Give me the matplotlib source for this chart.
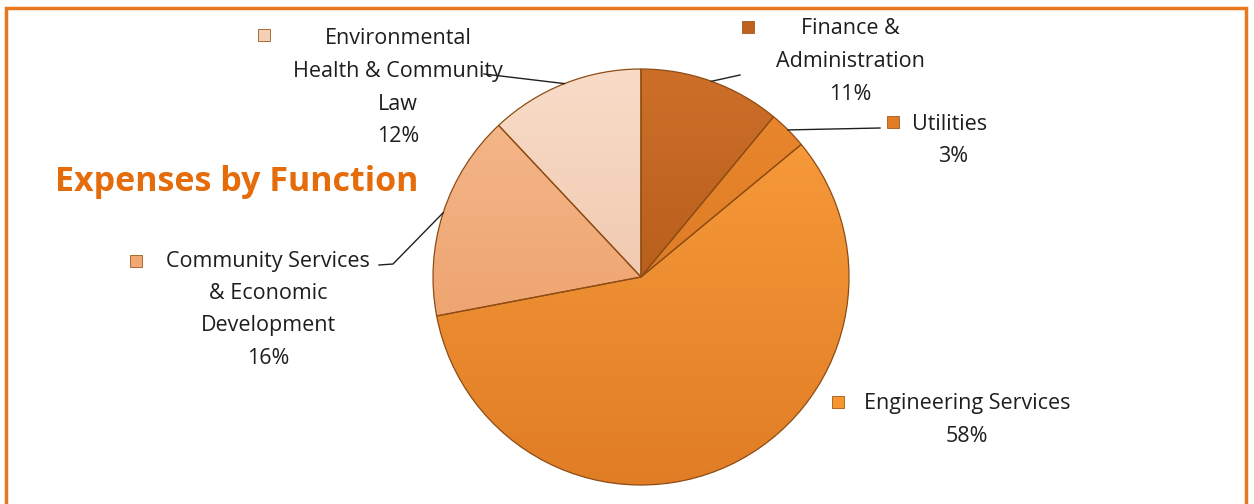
import matplotlib
matplotlib.use("Agg")
import matplotlib.pyplot as plt
from matplotlib.colors import LinearSegmentedColormap
import numpy as np

categories = ["Finance &\nAdministration", "Utilities", "Engineering Services",
              "Community Services\n& Economic\nDevelopment",
              "Environmental\nHealth & Community\nLaw"]
values = [11, 3, 58, 16, 12]
colors = ["#c0621f", "#e27b25", "#f7952f", "#f2a874", "#f3cfb6"]
# shading of each slice from the top of the pie to its bottom
shade_top = ["#cd6f29", "#ec892e", "#fb9f3e", "#f6ba8e", "#f8dcc8"]
shade_bottom = ["#a3500f", "#d0701f", "#e07d25", "#e9965e", "#eab899"]
title = "Expenses by Function"

W, H = 1254, 504
fig = plt.figure(figsize=(W / 100, H / 100), dpi=100)
ax = fig.add_axes([0, 0, 1, 1])


def py(y):
    return H - y


cx, cy, R = 641, py(277), 208
wedges, _ = ax.pie(values, colors=colors, startangle=90, counterclock=False,
                   center=(cx, cy), radius=R, frame=True,
                   wedgeprops=dict(edgecolor="#8e4c14", linewidth=0.9))
ax.set_xlim(0, W)
ax.set_ylim(0, H)
ax.set_aspect("equal")
ax.axis("off")

grad = np.linspace(0, 1, 256).reshape(-1, 1)
for w, ct, cb in zip(wedges, shade_top, shade_bottom):
    w.set_facecolor("none")
    w.set_zorder(3)
    cmap = LinearSegmentedColormap.from_list("s", [ct, cb])
    im = ax.imshow(grad, cmap=cmap, aspect="auto", origin="upper",
                   extent=(cx - R, cx + R, cy - R, cy + R), zorder=2,
                   interpolation="bilinear")
    im.set_clip_path(w)
ax.set_xlim(0, W)
ax.set_ylim(0, H)

font = ["Open Sans", "DejaVu Sans"]
fs = 15.5
line_h = 32.5
layout = [
    dict(mx=748, my=27, tx=850, ty=29, lead=[(740, 75)]),
    dict(mx=893, my=122, tx=953, ty=124, lead=[(880, 128)], first_left=912),
    dict(mx=838, my=402, tx=967, ty=404, lead=None),
    dict(mx=136, my=261, tx=268, ty=261, lead=[(379, 265), (393, 264)]),
    dict(mx=264, my=35, tx=398, ty=39, lead=[(484, 74)]),
]

cum = 0
for cat, val, col, lay in zip(categories, values, colors, layout):
    mid = 90 - (cum + val / 2) / 100 * 360
    cum += val
    lines = cat.split("\n") + [f"{val}%"]
    for i, ln in enumerate(lines):
        y = lay["ty"] + i * line_h
        if i == 0 and "first_left" in lay:
            ax.text(lay["first_left"], py(y), ln, ha="left", va="center",
                    fontsize=fs, family=font, color="#1e1e1e")
        else:
            ax.text(lay["tx"], py(y), ln, ha="center", va="center",
                    fontsize=fs, family=font, color="#1e1e1e")
    ax.plot([lay["mx"]], [py(lay["my"])], marker="s", markersize=8,
            color=col, markeredgecolor="#a0581c", markeredgewidth=0.6)
    if lay["lead"] is not None:
        ex = cx + R * np.cos(np.radians(mid))
        ey = cy + R * np.sin(np.radians(mid))
        xs = [p[0] for p in lay["lead"]] + [ex]
        ys = [py(p[1]) for p in lay["lead"]] + [ey]
        ax.plot(xs, ys, color="#1f1f1f", linewidth=1.0, zorder=4)

ax.text(55, py(182), title, ha="left", va="center", fontsize=24.5,
        fontweight="bold", family=font, color="#e46c0a")

# orange frame
ax.plot([6, 6, 1246, 1246], [0, py(8), py(8), 0], color="#e8781f",
        linewidth=2.5, solid_joinstyle="miter")

fig.savefig("out.png", dpi=100, facecolor="white")
